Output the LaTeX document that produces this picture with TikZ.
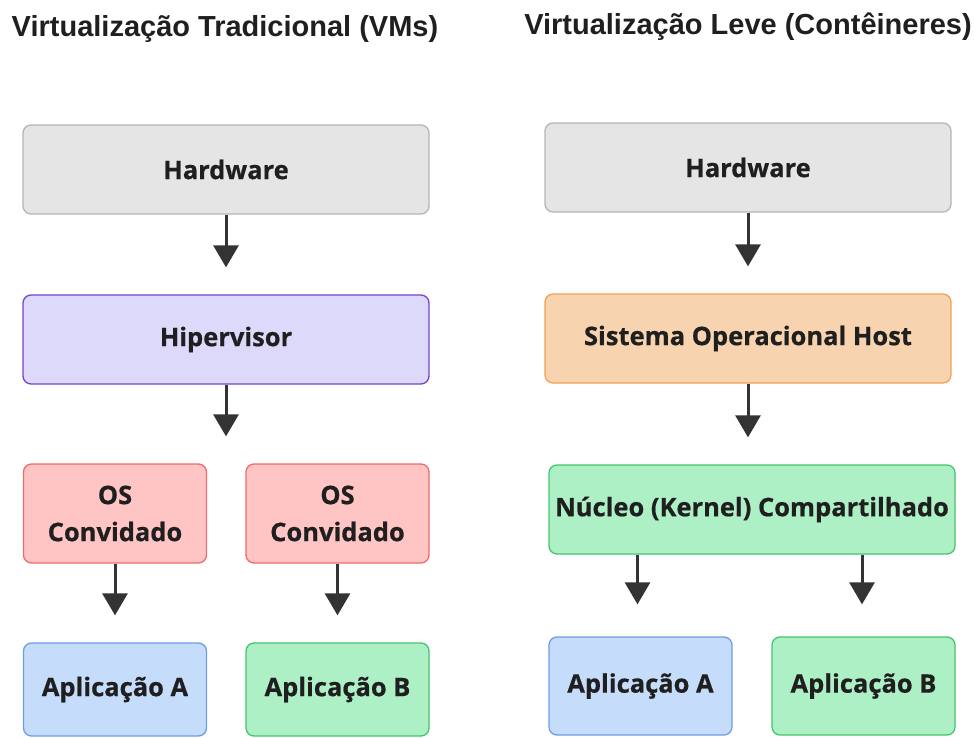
\documentclass[tikz,border=0pt]{standalone}
\usepackage{fontspec}
\setmainfont{Open Sans}[BoldFeatures={FakeBold=0.6}]
\newfontfamily\titlefont{Liberation Sans}
\usetikzlibrary{arrows.meta}
\definecolor{hwfill}{HTML}{E5E5E5}
\definecolor{hwdraw}{HTML}{B5B5B5}
\definecolor{hvfill}{HTML}{DDD9FB}
\definecolor{hvdraw}{HTML}{7443C9}
\definecolor{osfill}{HTML}{FFC5C5}
\definecolor{osdraw}{HTML}{EC6B6B}
\definecolor{apafill}{HTML}{C5DCFA}
\definecolor{apadraw}{HTML}{6E9DE6}
\definecolor{grfill}{HTML}{AEF0C6}
\definecolor{grdraw}{HTML}{45C46E}
\definecolor{hofill}{HTML}{F7D4AF}
\definecolor{hodraw}{HTML}{F2A055}
\definecolor{arr}{HTML}{333333}
\tikzset{
  box/.style={rounded corners=8pt, line width=1.3pt, align=center,
    font=\bfseries\fontsize{25.5}{37}\selectfont, text=black!88, inner sep=0pt},
  wide/.style={box, minimum width=406pt, minimum height=89pt},
  half/.style={box, minimum width=183pt, minimum height=98pt},
  hw/.style={fill=hwfill, draw=hwdraw},
  hv/.style={fill=hvfill, draw=hvdraw},
  os/.style={fill=osfill, draw=osdraw},
  apa/.style={fill=apafill, draw=apadraw},
  gr/.style={fill=grfill, draw=grdraw},
  ho/.style={fill=hofill, draw=hodraw},
  conn/.style={draw=arr, line width=3pt, shorten >=27pt,
    -{Triangle[length=22pt,width=25pt]}},
  ttl/.style={font=\titlefont\bfseries\fontsize{29}{34}\selectfont, text=black!88, inner sep=0pt}
}
\begin{document}
\begin{tikzpicture}[x=1pt,y=-1pt]
\useasboundingbox (0,0) rectangle (974,738);
% titles
\node[ttl] (t1) at (225,29) {Virtualização Tradicional (VMs)};
\node[ttl] (t2) at (748,27) {Virtualização Leve (Contêineres)};
% left
\node[wide,hw] (lhw) at (226,169.5) {Hardware};
\node[wide,hv] (lhv) at (226,339.5) {Hipervisor};
\node[half,os,minimum height=99pt] (los1) at (115,513.5) {OS\\Convidado};
\node[half,os,minimum height=99pt] (los2) at (337.5,513.5) {OS\\Convidado};
\node[half,apa,minimum height=93pt] (lapa) at (115,689.5) {Aplicação A};
\node[half,gr,minimum height=93pt] (lapb) at (337.5,689.5) {Aplicação B};
% right
\node[wide,hw] (rhw) at (748,167.5) {Hardware};
\node[wide,ho] (rho) at (748,338.5) {Sistema Operacional Host};
\node[wide,gr] (rnu) at (752,509.5) {Núcleo (Kernel) Compartilhado};
\node[half,apa] (rapa) at (640.5,686) {Aplicação A};
\node[half,gr] (rapb) at (863.5,686) {Aplicação B};
% connectors
\draw[conn] (lhw) -- (lhv);
\draw[conn] (lhv) -- (lhv.south |- los1.north);
\draw[conn] (los1) -- (lapa);
\draw[conn] (los2) -- (lapb);
\draw[conn] (rhw) -- (rho);
\draw[conn] (rho) -- (rho.south |- rnu.north);
\draw[conn,shorten >=32pt] ([xshift=-3pt]rnu.south -| rapa) -- ([xshift=-3pt]rapa.north);
\draw[conn,shorten >=32pt] ([xshift=-1.5pt]rnu.south -| rapb) -- ([xshift=-1.5pt]rapb.north);
\end{tikzpicture}
\end{document}
